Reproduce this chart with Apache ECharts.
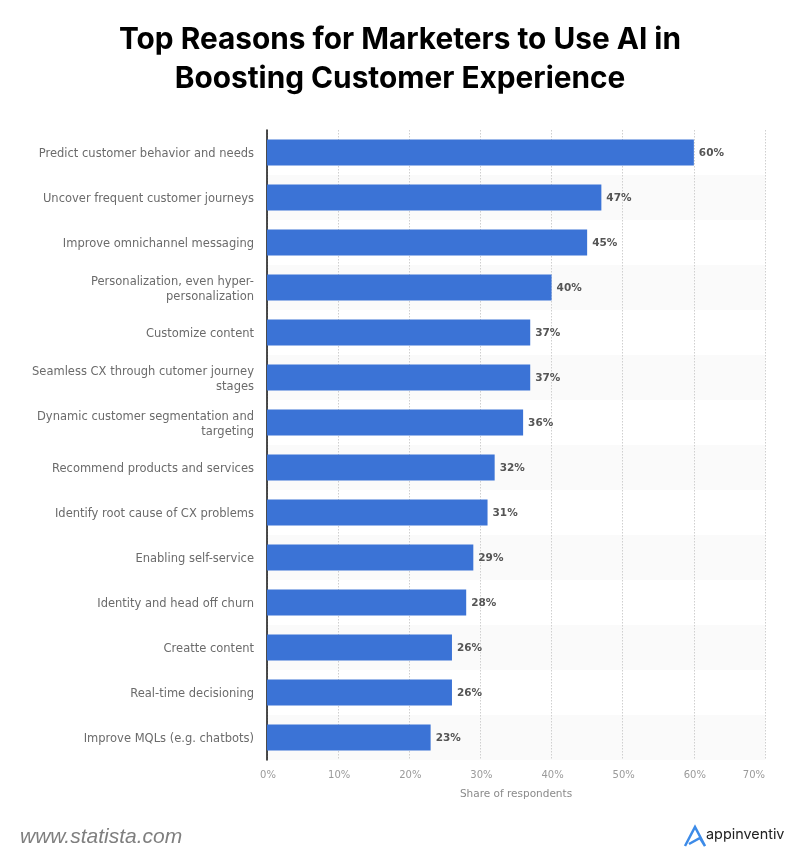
<!DOCTYPE html>
<html>
<head>
<meta charset="utf-8">
<style>html,body{margin:0;padding:0;background:#fff}#chart{width:800px;height:865px}</style>
<script src="https://cdn.jsdelivr.net/npm/echarts@6/dist/echarts.min.js"></script>
</head>
<body>
<div id="chart"></div>
<script>
const categories = [
  "Predict customer behavior and needs",
  "Uncover frequent customer journeys",
  "Improve omnichannel messaging",
  "Personalization, even hyper-\npersonalization",
  "Customize content",
  "Seamless CX through cutomer journey\nstages",
  "Dynamic customer segmentation and\ntargeting",
  "Recommend products and services",
  "Identify root cause of CX problems",
  "Enabling self-service",
  "Identity and head off churn",
  "Creatte content",
  "Real-time decisioning",
  "Improve MQLs (e.g. chatbots)"
];
const values = [60, 47, 45, 40, 37, 37, 36, 32, 31, 29, 28, 26, 26, 23];
const titleLines = "Top Reasons for Marketers to Use AI in\nBoosting Customer Experience";
const axisName = "Share of respondents";

const chart = echarts.init(document.getElementById('chart'), null, {renderer: 'canvas'});
chart.setOption({
  animation: false,
  backgroundColor: '#ffffff',
  title: {
    text: titleLines, left: 395, top: 16, textAlign: 'center',
    textStyle: {fontFamily: 'Inter', fontWeight: 700, fontSize: 29.8, lineHeight: 39, color: '#000000'}
  },
  grid: {left: 267, right: 35, top: 130, bottom: 105, containLabel: false},
  xAxis: {
    type: 'value', min: 0, max: 70, interval: 10,
    position: 'bottom',
    axisLine: {show: false}, axisTick: {show: false},
    axisLabel: {
      formatter: '{value}%', color: '#9a9a9a', fontFamily: 'DejaVu Sans', fontSize: 10, margin: 10,
      alignMaxLabel: 'right', alignMinLabel: 'center', padding: [0, 0, 0, 2]
    },
    splitLine: {show: true, lineStyle: {color: '#cfcfcf', type: [1.5, 1.5], width: 1}},
    name: axisName, nameLocation: 'middle', nameGap: 29,
    nameTextStyle: {color: '#8a8a8a', fontFamily: 'DejaVu Sans', fontSize: 10.5}
  },
  yAxis: {
    type: 'category', inverse: true, data: categories,
    axisLine: {show: true, lineStyle: {color: '#111111', width: 1.5}},
    axisTick: {show: false},
    axisLabel: {
      margin: 13, align: 'right',
      formatter: v => v.split('\n').map(s => '{l|' + s + '}').join('\n'),
      rich: {l: {color: '#6b6b6b', fontFamily: 'DejaVu Sans', fontSize: 11.5, lineHeight: 15, height: 11, verticalAlign: 'bottom', align: 'right'}}
    },
    splitLine: {show: false},
    splitArea: {show: true, areaStyle: {color: ['#ffffff', '#fafafa']}}
  },
  series: [{
    type: 'bar', data: values, barWidth: 26,
    itemStyle: {color: '#3b73d6'},
    label: {
      show: true, position: 'right', distance: 5, offset: [0, 1], formatter: '{c}%',
      color: '#555555', fontFamily: 'DejaVu Sans', fontWeight: 700, fontSize: 10.5
    }
  }],
  graphic: [
    {type: 'text', left: 20, top: 827, style: {text: 'www.statista.com', fontFamily: 'Liberation Sans', fontStyle: 'italic', fontSize: 21, fill: '#7f7f7f'}},
    {type: 'text', left: 706, top: 828, style: {text: 'appinventiv', fontFamily: 'Inter', fontSize: 14.4, fill: '#222222'}},
    {type: 'polyline', shape: {points: [[685,846],[695,827],[705,846],[700,838],[689,844]]}, style: {stroke: '#3d8be8', lineWidth: 2.5, fill: null}}
  ]
});
</script>
</body>
</html>
